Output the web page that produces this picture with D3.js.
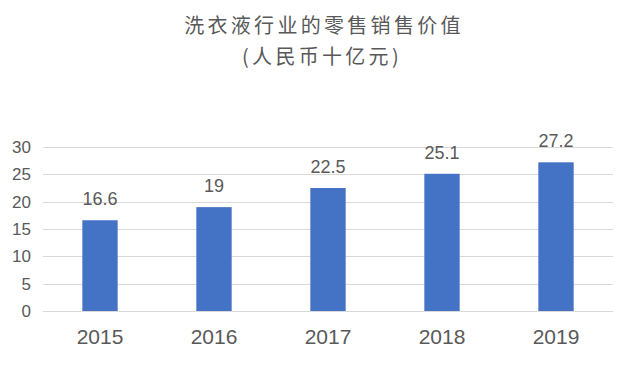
<!DOCTYPE html>
<html>
<head>
<meta charset="utf-8">
<script src="https://cdn.jsdelivr.net/npm/d3@7"></script>
<style>
  body { margin: 0; background: #fff; }
  text { font-family: "Noto Sans CJK SC", "Liberation Sans", sans-serif; fill: #595959; }
</style>
</head>
<body>
<svg id="chart"></svg>
<script>
// Data
const years = ["2015", "2016", "2017", "2018", "2019"];
const values = [16.6, 19, 22.5, 25.1, 27.2];
const yTicks = [0, 5, 10, 15, 20, 25, 30];
const titleLines = ["洗衣液行业的零售销售价值", "(人民币十亿元)"];

const width = 643, height = 373;
const plot = { left: 43, right: 613, top: 147, bottom: 311 };

const svg = d3.select("#chart")
  .attr("width", width)
  .attr("height", height);

// Title (spaced out glyphs like the original)
svg.append("g")
  .selectAll("text")
  .data(titleLines)
  .enter()
  .append("text")
  .attr("x", (d, i) => i === 0 ? 324 : 322)
  .attr("y", (d, i) => 33 + i * 31)
  .attr("text-anchor", "middle")
  .style("font-size", "20px")
  .style("letter-spacing", "3.3px")
  .text(d => d);

// Scales
const x = d3.scaleBand()
  .domain(years)
  .range([plot.left, plot.right])
  .paddingInner(0.69)
  .paddingOuter(0.345);

const y = d3.scaleLinear()
  .domain([0, 30])
  .range([plot.bottom, plot.top]);

// Gridlines
svg.append("g")
  .selectAll("line")
  .data(yTicks)
  .enter()
  .append("line")
  .attr("x1", plot.left)
  .attr("x2", plot.right)
  .attr("y1", d => Math.round(y(d)) + 0.5)
  .attr("y2", d => Math.round(y(d)) + 0.5)
  .attr("stroke", "#d9d9d9")
  .attr("stroke-width", 1);

// Y axis labels
const yAxis = svg.append("g")
  .attr("transform", `translate(${plot.left},0)`)
  .call(d3.axisLeft(y).tickValues(yTicks).tickSize(0).tickPadding(12));
yAxis.select(".domain").remove();
yAxis.selectAll("text")
  .style("font-size", "17px")
  .attr("fill", "#595959")
  .style("font-family", "'Liberation Sans', sans-serif");

// X axis labels
const xAxis = svg.append("g")
  .attr("transform", `translate(0,${plot.bottom})`)
  .call(d3.axisBottom(x).tickSize(0).tickPadding(18));
xAxis.select(".domain").remove();
xAxis.selectAll("text")
  .style("font-size", "21px")
  .attr("fill", "#595959")
  .style("font-family", "'Liberation Sans', sans-serif");

// Bars
svg.selectAll(".bar")
  .data(values)
  .enter()
  .append("rect")
  .attr("class", "bar")
  .attr("x", (d, i) => x(years[i]))
  .attr("y", d => y(d))
  .attr("width", x.bandwidth())
  .attr("height", d => y(0) - y(d))
  .attr("fill", "#4472c4");

// Value labels
svg.selectAll(".label")
  .data(values)
  .enter()
  .append("text")
  .attr("class", "label")
  .attr("x", (d, i) => x(years[i]) + x.bandwidth() / 2)
  .attr("y", d => y(d) - 15)
  .attr("text-anchor", "middle")
  .style("font-size", "18px")
  .style("font-family", "'Liberation Sans', sans-serif")
  .text(d => d);
</script>
</body>
</html>
